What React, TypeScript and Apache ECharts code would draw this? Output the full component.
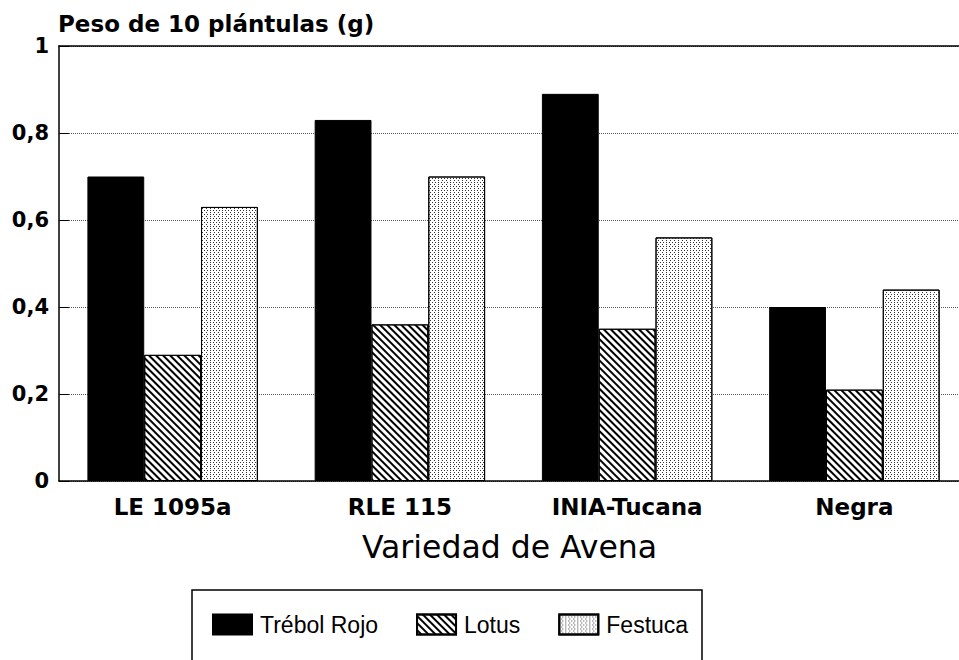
import React, { useEffect, useRef } from "react";
import * as echarts from "echarts";

const categories = ["LE 1095a", "RLE 115", "INIA-Tucana", "Negra"];
const seriesNames = ["Trébol Rojo", "Lotus", "Festuca"];
const trebolRojo = [0.7, 0.83, 0.89, 0.4];
const lotus = [0.29, 0.36, 0.35, 0.21];
const festuca = [0.63, 0.7, 0.56, 0.44];
const yTicks = [0, 0.2, 0.4, 0.6, 0.8, 1];
const yTitle = "Peso de 10 plántulas (g)";
const xTitle = "Variedad de Avena";

const BOLD = "DejaVu Sans";

export default function App() {
  const ref = useRef<HTMLDivElement>(null);
  useEffect(() => {
    if (!ref.current) return;
    const chart = echarts.init(ref.current, null, { renderer: "svg" });
    const border = { borderColor: "#000", borderWidth: 1 };
    chart.setOption({
      animation: false,
      backgroundColor: "#fff",
      title: {
        text: yTitle,
        left: 58,
        top: 12,
        padding: 0,
        textStyle: { fontFamily: BOLD, fontWeight: "bold", fontSize: 23, color: "#000" },
      },
      grid: {
        left: 59,
        right: -9,
        top: 46,
        bottom: 179,
        containLabel: false,
        outerBoundsMode: "none",
      },
      legend: {
        left: 212,
        top: 613,
        padding: 0,
        itemWidth: 39,
        itemHeight: 20,
        itemGap: 38,
        icon: "rect",
        data: seriesNames,
        textStyle: {
          fontFamily: "Liberation Sans",
          fontSize: 23,
          color: "#000",
          padding: [0, 0, 0, 3],
        },
      },
      graphic: [
        {
          type: "rect",
          shape: { x: 192, y: 590, width: 510, height: 100 },
          style: { fill: "none", stroke: "#000", lineWidth: 1.5 },
          silent: true,
          z: 0,
        },
      ],
      xAxis: [
        {
          type: "category",
          data: categories,
          axisLine: { show: true, lineStyle: { color: "#000", width: 1.5 } },
          axisTick: { show: false },
          axisLabel: {
            fontFamily: BOLD,
            fontWeight: "bold",
            fontSize: 23,
            color: "#000",
            margin: 14,
          },
          name: xTitle,
          nameLocation: "middle",
          nameGap: 50,
          nameTextStyle: {
            fontFamily: "DejaVu Sans",
            fontSize: 31.5,
            color: "#000",
            padding: [0, 8, 0, 0],
          },
        },
        {
          type: "category",
          data: categories,
          position: "top",
          axisLine: { show: true, lineStyle: { color: "#000", width: 1.5 } },
          axisTick: { show: false },
          axisLabel: { show: false },
        },
      ],
      yAxis: {
        type: "value",
        min: 0,
        max: 1,
        interval: 0.2,
        axisLine: { show: true, lineStyle: { color: "#000", width: 1.5 } },
        axisTick: { show: true, inside: true, length: 10, lineStyle: { color: "#000" } },
        axisLabel: {
          fontFamily: BOLD,
          fontWeight: "bold",
          fontSize: 21,
          color: "#000",
          margin: 10,
          formatter: (v: number) =>
            yTicks.indexOf(Math.round(v * 10) / 10) >= 0
              ? String(Math.round(v * 10) / 10).replace(".", ",")
              : "",
        },
        splitLine: { show: true, lineStyle: { color: "#555", type: "dotted", width: 1 } },
      },
      series: [
        {
          name: seriesNames[0],
          type: "bar",
          data: trebolRojo,
          barGap: "0%",
          barCategoryGap: "25%",
          itemStyle: { color: "#000", ...border },
        },
        {
          name: seriesNames[1],
          type: "bar",
          data: lotus,
          barGap: "0%",
          barCategoryGap: "25%",
          itemStyle: {
            color: "#fff",
            ...border,
            decal: {
              symbol: "rect",
              symbolSize: 1,
              color: "#000",
              backgroundColor: "#fff",
              dashArrayX: [1, 0],
              dashArrayY: [1.6, 2.2],
              rotation: Math.PI / 4,
            },
          },
        },
        {
          name: seriesNames[2],
          type: "bar",
          data: festuca,
          barGap: "0%",
          barCategoryGap: "25%",
          itemStyle: {
            color: "#fff",
            ...border,
            decal: {
              symbol: "rect",
              symbolSize: 1,
              color: "#333",
              backgroundColor: "#fff",
              dashArrayX: [
                [1, 2],
                [0, 1.5, 1, 0.5],
              ],
              dashArrayY: [1, 1],
              rotation: 0,
            },
          },
        },
      ],
    });
    return () => chart.dispose();
  }, []);
  return (
    <div
      ref={ref}
      style={{ position: "fixed", left: 0, top: 0, width: 959, height: 660 }}
    />
  );
}
